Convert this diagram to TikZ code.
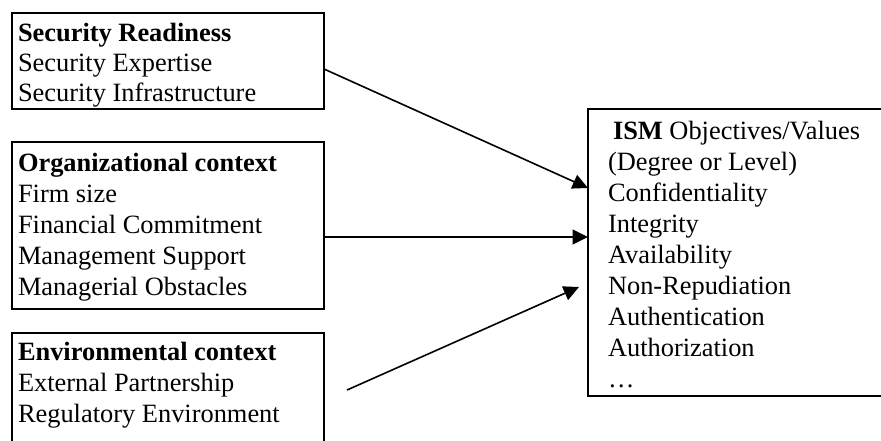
\documentclass[tikz,border=0pt]{standalone}
\usepackage{fontspec}
\setmainfont{Liberation Serif}
\usetikzlibrary{arrows.meta,calc}
\begin{document}
\begin{tikzpicture}[x=0.75pt,y=-0.75pt,
  box/.style={draw=black, line width=1.5pt, inner sep=0pt, outer sep=0pt},
  txt/.style={anchor=base west, inner sep=0pt, outer sep=0pt, align=left,
              font=\fontsize{19.8}{23.25}\selectfont},
  conn/.style={line width=1.2pt, -{Triangle[length=11.5pt,width=11pt]}}]
\useasboundingbox (0,0) rectangle (881,440);
\clip (0,0) rectangle (881,440);
% boxes
\node[box, minimum width=234pt, minimum height=72pt] (b1) at (168,61) {};
\node[box, minimum width=234pt, minimum height=125.25pt] (b2) at (168,225.5) {};
\node[box, minimum width=234pt, minimum height=110.25pt] (b3) at (168,406.5) {};
\node[box, minimum width=249pt, minimum height=215.25pt] (b4) at (754,252.5) {};
% texts (base anchor = baseline of the last line)
\node[txt, font=\fontsize{19.8}{22.2}\selectfont] (t1) at (18,101)
  {\textbf{Security Readiness}\\Security Expertise\\Security Infrastructure};
\node[txt] (t2) at (18,295)
  {\textbf{Organizational context}\\Firm size\\Financial Commitment\\Management Support\\Managerial Obstacles};
\node[txt] (t3) at (18,422)
  {\textbf{Environmental context}\\External Partnership\\Regulatory Environment};
\node[txt] (t4) at (608,387)
  {\hspace{3.75pt}\textbf{ISM} Objectives/Values\\(Degree or Level)\\Confidentiality\\Integrity\\Availability\\Non-Repudiation\\Authentication\\Authorization\\…};
% connectors
\coordinate (c3s) at (347,390);
\coordinate (c3e) at (579,287);
\draw[conn] ($(b1.north east)+(0,56)$) -- ($(b4.west)+(0,-64.5)$);
\draw[conn] ($(b2.east)+(0,11.5)$) -- ($(b4.west)+(0,-15.5)$);
\draw[conn] (c3s) -- (c3e);
\end{tikzpicture}
\end{document}
